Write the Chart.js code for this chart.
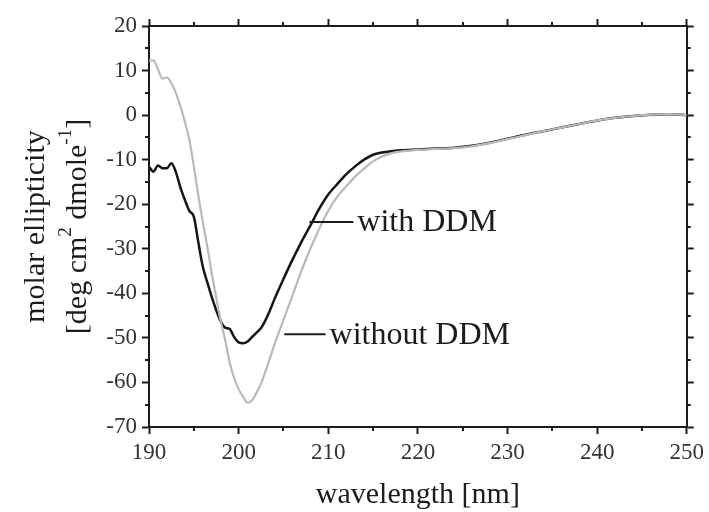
<!DOCTYPE html>
<html>
<head>
<meta charset="utf-8">
<script src="https://cdn.jsdelivr.net/npm/chart.js@4.4.1/dist/chart.umd.min.js"></script>
<style>
  html, body { margin: 0; padding: 0; background: #fff; }
</style>
</head>
<body>
<canvas id="cdChart" width="709" height="512"></canvas>
<script>
// ----- CD spectra (molar ellipticity, x1000) -----
const wavelength = [
  190, 190.5, 191, 191.5, 192, 192.5, 193, 193.5, 194, 194.5,
  195, 195.5, 196, 196.5, 197, 197.5, 198, 198.5, 199, 199.5,
  200, 200.5, 201, 201.5, 202, 202.5, 203, 203.5, 204,
  205, 206, 207, 208, 209, 210, 211, 212, 213, 214, 215, 216, 217, 218,
  220, 222, 224, 226, 228, 230, 232, 234, 236, 238, 240, 242, 244, 246, 248, 250
];
const withoutDDM = [
  12.2, 12.3, 10.3, 8.2, 8.5, 7.1, 5.0, 2.0, -1.5, -5.5,
  -11.5, -18.0, -24.0, -29.5, -35.5, -41.0, -46.2, -50.5, -55.5, -59.0,
  -61.5, -63.2, -64.6, -64.0, -62.3, -60.2, -57.5, -54.5, -51.5,
  -46.0, -40.5, -35.0, -30.0, -25.5, -21.5, -18.3, -16.0, -13.8, -12.0, -10.4, -9.3, -8.6, -8.2,
  -7.8, -7.6, -7.4, -7.0, -6.3, -5.4, -4.5, -3.6, -2.8, -2.0, -1.2, -0.6, -0.2, 0.1, 0.2, 0.0
];
const withDDM = [
  -11.6, -12.7, -11.3, -11.9, -11.9, -10.8, -12.8, -16.2, -19.0, -21.5,
  -22.8, -28.5, -34.0, -37.5, -40.8, -43.8, -46.3, -47.7, -48.0, -49.8,
  -51.0, -51.2, -50.8, -49.8, -48.8, -47.8, -46.0, -43.8, -41.3,
  -36.8, -32.5, -28.5, -24.8, -21.0, -17.8, -15.5, -13.3, -11.5, -10.0, -8.9, -8.4, -8.1, -7.9,
  -7.7, -7.5, -7.3, -6.9, -6.2, -5.3, -4.4, -3.6, -2.8, -2.0, -1.2, -0.6, -0.2, 0.1, 0.2, 0.0
];

const xTicks = [190, 200, 210, 220, 230, 240, 250];
const yTicks = [20, 10, 0, -10, -20, -30, -40, -50, -60, -70];

// labels with a short leader line, given in data units
const callouts = [
  { text: 'with DDM',    y: -24.0, x0: 207.9, x1: 212.8 },
  { text: 'without DDM', y: -49.2, x0: 205.1, x1: 209.7 }
];

const INK = '#1c1c1c';
const SERIF = '"Liberation Serif", "DejaVu Serif", serif';

const toPoints = ys => wavelength.map((w, i) => ({ x: w, y: ys[i] }));

// minor ticks at the half steps, drawn outward on all four sides
const minorTicks = {
  id: 'minorTicks',
  afterDraw(chart){
    const { ctx, chartArea: a, scales } = chart;
    ctx.save();
    ctx.strokeStyle = INK;
    ctx.lineWidth = 2;
    ctx.beginPath();
    for(let v = 195; v < 250; v += 10){
      const px = Math.round(scales.x.getPixelForValue(v));
      ctx.moveTo(px, a.bottom); ctx.lineTo(px, a.bottom + 4);
      ctx.moveTo(px, a.top);    ctx.lineTo(px, a.top - 4);
    }
    for(let v = 15; v > -70; v -= 10){
      const py = Math.round(scales.y.getPixelForValue(v));
      ctx.moveTo(a.left, py);  ctx.lineTo(a.left - 4, py);
      ctx.moveTo(a.right, py); ctx.lineTo(a.right + 4, py);
    }
    ctx.stroke();
    ctx.restore();
  }
};

const labels = {
  id: 'labels',
  afterDraw(chart){
    const { ctx, chartArea: a, scales } = chart;
    ctx.save();
    ctx.fillStyle = INK;
    ctx.strokeStyle = INK;

    // callouts
    ctx.lineWidth = 2;
    ctx.font = '32px ' + SERIF;
    ctx.textAlign = 'left';
    ctx.textBaseline = 'middle';
    callouts.forEach(c => {
      const py = scales.y.getPixelForValue(c.y);
      const p0 = scales.x.getPixelForValue(c.x0);
      const p1 = scales.x.getPixelForValue(c.x1);
      ctx.beginPath(); ctx.moveTo(p0, py); ctx.lineTo(p1, py); ctx.stroke();
      ctx.fillText(c.text, p1 + 4, py + 1);
    });

    // x axis title
    ctx.font = '30px ' + SERIF;
    ctx.textAlign = 'center';
    ctx.textBaseline = 'alphabetic';
    ctx.fillText('wavelength [nm]', (a.left + a.right) / 2, 503);

    // y axis title, two rotated lines with superscripts
    const cy = (a.top + a.bottom) / 2;
    const lines = [
      { base: 44, parts: [['molar ellipticity', 0]] },
      { base: 86, parts: [['[deg cm', 0], ['2', 1], [' dmole', 0], ['-1', 1], [']', 0]] }
    ];
    lines.forEach(line => {
      const widths = line.parts.map(([t, sup]) => {
        ctx.font = (sup ? '19px ' : '30px ') + SERIF;
        return ctx.measureText(t).width;
      });
      const total = widths.reduce((s, w) => s + w, 0);
      ctx.save();
      ctx.translate(line.base, cy);
      ctx.rotate(-Math.PI / 2);
      ctx.textAlign = 'left';
      let pos = -total / 2;
      line.parts.forEach(([t, sup], i) => {
        ctx.font = (sup ? '19px ' : '30px ') + SERIF;
        ctx.fillText(t, pos, sup ? -15 : 0);
        pos += widths[i];
      });
      ctx.restore();
    });
    ctx.restore();
  }
};

const tickFont = { family: SERIF, size: 23 };
const frameGrid = { drawOnChartArea: false, drawTicks: true, tickLength: 7, tickWidth: 2, tickColor: INK };
const frameBorder = { display: true, width: 2, color: INK };

function sideAxis(position, size){
  const horizontal = position === 'top' || position === 'bottom';
  return {
    type: 'linear',
    position,
    min: horizontal ? 190 : -70,
    max: horizontal ? 250 : 20,
    afterBuildTicks: s => { s.ticks = (horizontal ? xTicks : yTicks).map(v => ({ value: v })); },
    afterFit: s => { if(horizontal) s.height = size; else s.width = size; },
    grid: frameGrid,
    border: frameBorder,
    ticks: { display: false }
  };
}

const xAxis = sideAxis('bottom', 85);
xAxis.ticks = { display: true, font: tickFont, color: '#333', padding: 5, maxRotation: 0, autoSkip: false };
const yAxis = sideAxis('left', 149);
yAxis.ticks = { display: true, font: tickFont, color: '#333', padding: 5, autoSkip: false };

new Chart(document.getElementById('cdChart'), {
  type: 'line',
  data: {
    datasets: [
      { label: 'without DDM', data: toPoints(withoutDDM), borderColor: '#b9b9b9', borderWidth: 2.2,
        pointRadius: 0, cubicInterpolationMode: 'monotone', xAxisID: 'x', yAxisID: 'y' },
      { label: 'with DDM', data: toPoints(withDDM), borderColor: '#161616', borderWidth: 2.5,
        pointRadius: 0, cubicInterpolationMode: 'monotone', xAxisID: 'x', yAxisID: 'y' }
    ]
  },
  options: {
    responsive: false,
    animation: false,
    layout: { padding: 0 },
    plugins: { legend: { display: false }, tooltip: { enabled: false } },
    scales: {
      x: xAxis,
      y: yAxis,
      x2: sideAxis('top', 26),
      y2: sideAxis('right', 18)
    }
  },
  plugins: [minorTicks, labels]
});
</script>
</body>
</html>
